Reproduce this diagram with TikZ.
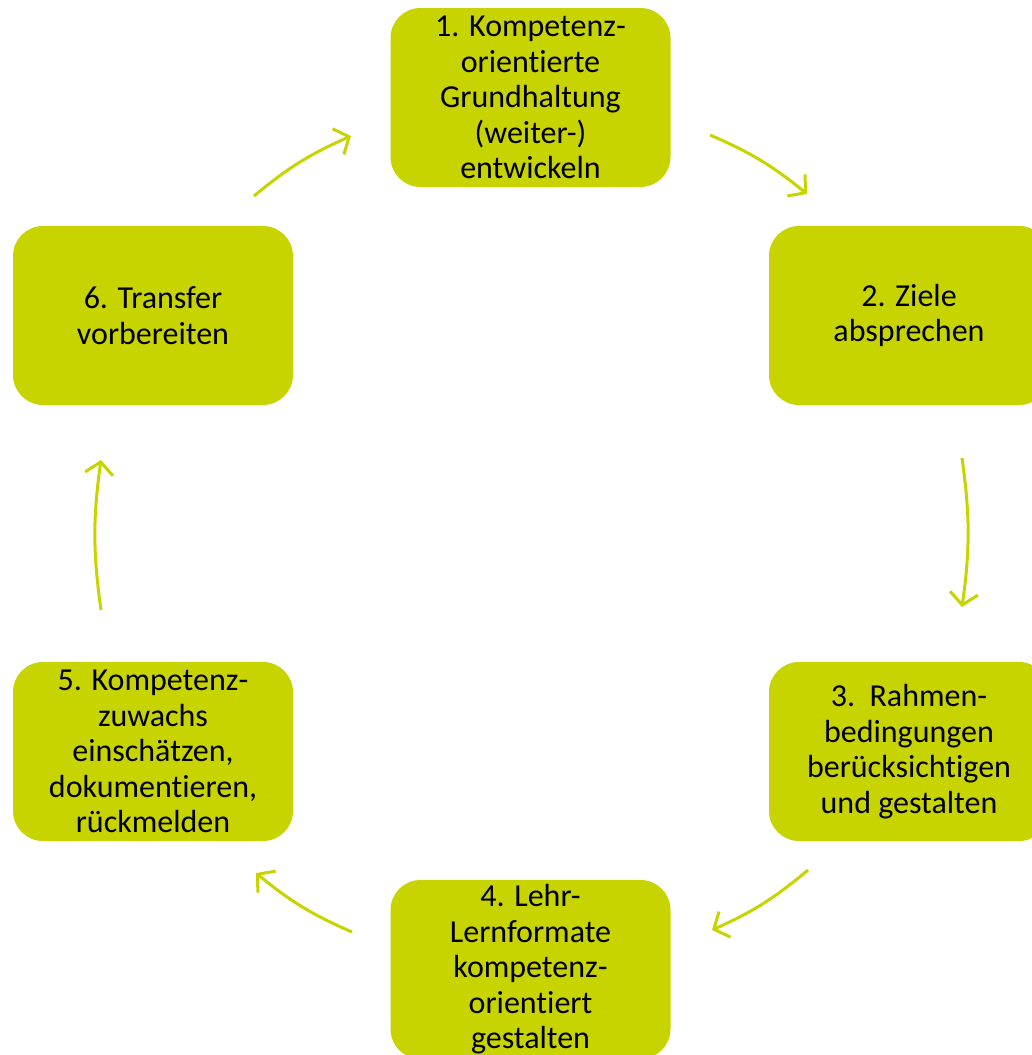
\documentclass[tikz,border=0pt]{standalone}
\usepackage{fontspec}
\setmainfont{Carlito}[Ligatures={NoCommon,NoRare}]
\usetikzlibrary{arrows.meta}
\definecolor{lime}{RGB}{200,212,0}
\tikzset{
  stepbox/.style={fill=lime, draw=none, rounded corners=30pt, minimum width=280pt, minimum height=179pt,
    align=center, inner sep=0pt, font=\fontsize{32pt}{35.5pt}\selectfont, text=black},
  cyc/.style={draw=lime, line width=3pt, -{Straight Barb[length=12pt,width=28pt,line width=3pt]}, bend left=8}
}
\begin{document}
\begin{tikzpicture}[x=1pt,y=-1pt]
\useasboundingbox (0,0) rectangle (1032,1055);
\clip (0,0) rectangle (1032,1055);
\node[stepbox] (b1) at (530.5,97.5) {1. Kompetenz-\\orientierte\\Grundhaltung\\(weiter-)\\entwickeln};
\node[stepbox] (b2) at (909,315.5) {2. Ziele\\absprechen};
\node[stepbox] (b3) at (909,751.5) {3.\ \ Rahmen-\\bedingungen\\berücksichtigen\\und gestalten};
\node[stepbox] (b4) at (530.5,969.5) {4. Lehr-\\Lernformate\\kompetenz-\\orientiert\\gestalten};
\node[stepbox] (b5) at (153,751.5) {5. Kompetenz-\\zuwachs\\einschätzen,\\dokumentieren,\\rückmelden};
\node[stepbox] (b6) at (153,315.5) {6. Transfer\\vorbereiten};
\coordinate (a1s) at (710,135);
\coordinate (a1e) at (807,194);
\coordinate (a2s) at (962,458);
\coordinate (a2e) at (962,607);
\coordinate (a3s) at (808,870);
\coordinate (a3e) at (712,930);
\coordinate (a4s) at (352,932);
\coordinate (a4e) at (256,873);
\coordinate (a5s) at (101,610);
\coordinate (a5e) at (101,460);
\coordinate (a6s) at (254,196);
\coordinate (a6e) at (351,136);
\draw[cyc] (a1s) to (a1e);
\draw[cyc] (a2s) to (a2e);
\draw[cyc] (a3s) to (a3e);
\draw[cyc] (a4s) to (a4e);
\draw[cyc] (a5s) to (a5e);
\draw[cyc] (a6s) to (a6e);
\end{tikzpicture}
\end{document}
